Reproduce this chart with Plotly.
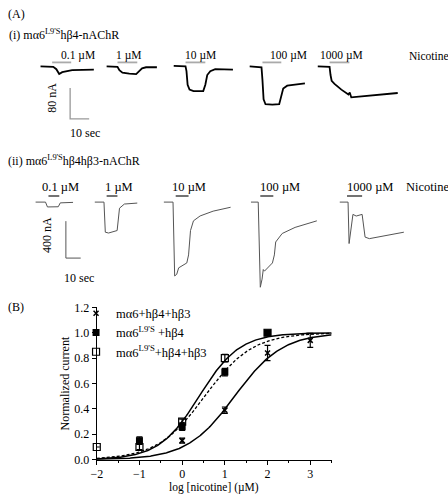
import numpy as np
import plotly.graph_objects as go

W, H = 448, 501
FONT = "Liberation Serif"

# ---------------- data ----------------
conc_labels = ["0.1 µM", "1 µM", "10 µM", "100 µM", "1000 µM"]

# Panel A(i): mα6L9'S hβ4 current traces, time (s) and current (nA) relative to baseline
r1_t = [
    [0, 6.7, 8.3, 9.8, 11.4, 14.0, 16.6, 28.0],
    [0, 5.7, 6.7, 8.3, 11.9, 15.5, 17.1, 18.6, 20.7, 26.4],
    [0, 6.2, 6.7, 7.3, 8.3, 10.4, 15.5, 16.6, 17.6, 19.2, 21.8, 31.1],
    [0, 6.2, 6.7, 7.3, 8.3, 11.9, 15.5, 16.6, 17.6, 19.7, 23.3, 29.0],
    [0, 6.2, 6.7, 7.3, 8.8, 12.4, 16.1, 16.8, 17.6, 22.8, 30.6, 42.0],
]
r1_i = [
    [0, -1.3, -7.6, -20.2, -15.2, -12.6, -10.1, -8.8],
    [0, -1.3, -10.1, -16.4, -18.9, -20.2, -12.6, -5.1, -2.5, -2.5],
    [0, -1.3, -13.9, -49.2, -61.9, -65.7, -65.7, -49.2, -24.0, -13.9, -8.8, -10.1],
    [0, -2.5, -35.4, -85.9, -98.5, -99.7, -98.5, -73.2, -58.0, -50.5, -48.0, -44.2],
    [0, -1.3, -22.7, -37.9, -45.5, -60.6, -73.2, -68.2, -80.8, -78.3, -73.2, -69.4],
]
r1_bar_on = [6.1, 5.7, 6.2, 6.7, 6.2]
r1_bar_off = [16.1, 16.1, 16.6, 16.6, 16.6]

# Panel A(ii): mα6L9'S hβ4 hβ3 current traces
r2_t = [
    [0, 6.7, 8.0, 12.0, 15.3, 16.7, 25.3],
    [0, 6.2, 7.1, 9.3, 15.1, 16.7, 20.0, 28.7],
    [0, 6.2, 7.3, 8.7, 10.0, 15.5, 16.7, 18.0, 20.0, 24.5, 33.3, 45.1],
    [0, 4.9, 6.3, 7.5, 8.3, 9.1, 14.5, 15.8, 16.7, 21.1, 29.8, 44.5],
    [0, 5.6, 6.3, 8.9, 11.1, 15.1, 17.1, 20.0, 43.3],
]
r2_i = [
    [0, 0, -52.6, -55.8, -50.5, -8.4, -3.2],
    [0, 0, -326, -335, -308, -66, -21, -10.5],
    [0, 0, -800, -782, -712, -659, -572, -308, -203, -150, -98, -56],
    [0, 0, -922, -834, -730, -748, -659, -572, -432, -340, -274, -203],
    [0, 0, -449, -133, -151, -133, -379, -396, -326],
]
r2_bar_on = [8.7, 8.0, 8.0, 6.3, 4.9]
r2_bar_off = [16.0, 15.3, 16.7, 15.1, 15.1]

scale1 = (10, 80)    # sec, nA
scale2 = (10, 400)   # sec, nA

# Panel B: concentration-response
wt_x = [0, 1, 2, 3]
wt_y = [0.15, 0.39, 0.84, 0.94]
wt_e = [0.02, 0.025, 0.06, 0.055]

b4_x = [-1, 0, 1, 2]
b4_y = [0.15, 0.26, 0.69, 1.00]
b4_e = [0.03, 0.03, 0.03, 0.01]

b4b3_x = [-2, -1, 0, 1, 2]
b4b3_y = [0.10, 0.10, 0.30, 0.80, 1.00]
b4b3_e = [0.0, 0.02, 0.02, 0.03, 0.01]

# Hill fit parameters (logEC50, slope)
wt_fit = (1.23, 0.78)
b4_fit = (0.53, 0.78)
b4b3_fit = (0.40, 0.92)

# ---------------- layout helpers ----------------
def px(x):
    return x / W

def py(y):
    return 1 - y / H

fig = go.Figure()

# Row geometry (pixels)
pps1, ppn1, top1, bot1 = 1.93, 0.396, 40, 140
pps2, ppn2, top2, bot2 = 1.5, 0.095, 168, 300
r1_x0 = [35, 102, 170, 247, 316]
r1_y0 = [61, 61, 60.5, 61, 61]
r2_x0 = [30, 90, 160, 248.3, 338.3]
r2_y0 = [200.7] * 5
bar1_y, bar2_y = 57, 194.5

def add_row(ts, cs, on, off, x0s, y0s, pps, ppn, top, bary, xa, ya, lcol, lw, bcol, bw):
    for t, c, a, b, x0, y0 in zip(ts, cs, on, off, x0s, y0s):
        toff = x0 / pps
        coff = -(y0 - top) / ppn
        fig.add_trace(go.Scatter(x=[v + toff for v in t], y=[v + coff for v in c],
                                 mode="lines", line=dict(color=lcol, width=lw),
                                 xaxis=xa, yaxis=ya, showlegend=False, hoverinfo="skip"))
        yb = -(bary - top) / ppn
        fig.add_trace(go.Scatter(x=[a + toff, b + toff], y=[yb, yb], mode="lines",
                                 line=dict(color=bcol, width=bw),
                                 xaxis=xa, yaxis=ya, showlegend=False, hoverinfo="skip"))

add_row(r1_t, r1_i, r1_bar_on, r1_bar_off, r1_x0, r1_y0, pps1, ppn1, top1, bar1_y,
        "x2", "y2", "black", 1.8, "#aaaaaa", 1.8)
add_row(r2_t, r2_i, r2_bar_on, r2_bar_off, r2_x0, r2_y0, pps2, ppn2, top2, bar2_y,
        "x3", "y3", "#555555", 1.0, "#444444", 1.4)

# scale bars
def add_scale(corner, sc, pps, ppn, top, xa, ya, col, lw):
    tc = corner[0] / pps
    vc = -(corner[1] - top) / ppn
    fig.add_trace(go.Scatter(x=[tc, tc, tc + sc[0]], y=[vc + sc[1], vc, vc], mode="lines",
                             line=dict(color=col, width=lw), xaxis=xa, yaxis=ya,
                             showlegend=False, hoverinfo="skip"))

add_scale((65, 115), scale1, pps1, ppn1, top1, "x2", "y2", "#999999", 1.3)
add_scale((60.7, 258.3), scale2, pps2, ppn2, top2, "x3", "y3", "#555555", 1.0)

# Panel B
def hill(x, p):
    return 1 / (1 + 10 ** ((p[0] - x) * p[1]))

xs = np.linspace(-2, 3.5, 300)
fig.add_trace(go.Scatter(x=xs, y=hill(xs, b4b3_fit), mode="lines",
                         line=dict(color="black", width=1.5), showlegend=False, hoverinfo="skip"))
fig.add_trace(go.Scatter(x=xs, y=hill(xs, b4_fit), mode="lines",
                         line=dict(color="black", width=1.3, dash="3px,2px"), showlegend=False,
                         hoverinfo="skip"))
fig.add_trace(go.Scatter(x=xs, y=hill(xs, wt_fit), mode="lines",
                         line=dict(color="black", width=1.5), showlegend=False, hoverinfo="skip"))

def err(e):
    return dict(type="data", array=e, visible=True, color="black", thickness=1.2, width=3)

fig.add_trace(go.Scatter(x=wt_x, y=wt_y, mode="markers", error_y=err(wt_e), cliponaxis=False,
                         marker=dict(symbol="x-thin", size=5, line=dict(color="black", width=1.5)),
                         name="mα6+hβ4+hβ3"))
fig.add_trace(go.Scatter(x=b4_x, y=b4_y, mode="markers", error_y=err(b4_e), cliponaxis=False,
                         marker=dict(symbol="square", size=7, color="black"),
                         name="mα6<sup>L9'S</sup> +hβ4"))
fig.add_trace(go.Scatter(x=b4b3_x, y=b4b3_y, mode="markers", error_y=err(b4b3_e), cliponaxis=False,
                         marker=dict(symbol="square-open", size=7, color="black",
                                     line=dict(width=1.2)),
                         name="mα6<sup>L9'S</sup>+hβ4+hβ3"))

ann = []
def txt(s, x, y, size=12, xanchor="left", angle=0):
    ann.append(dict(text=s, x=px(x), y=py(y), xref="paper", yref="paper", showarrow=False,
                    xanchor=xanchor, yanchor="middle", textangle=angle,
                    font=dict(family=FONT, size=size, color="black")))

txt("(A)", 0, 7)
txt("(i) mα6<sup>L9'S</sup>hβ4-nAChR", 1, 28)
txt("(ii) mα6<sup>L9'S</sup>hβ4hβ3-nAChR", 0, 158)
txt("(B)", 0, 309)
r1_lab_x = [54, 109, 179, 266, 316]
r2_lab_x = [34, 98, 166, 255, 344]
for s, a, b in zip(conc_labels, r1_lab_x, r2_lab_x):
    txt(s, a, 50, size=11.5)
    txt(s, b, 185, size=12.5)
txt("Nicotine", 406, 50, size=11.5)
txt("Nicotine", 403, 185, size=12.5)
txt(f"{scale1[1]} nA", 47, 93, angle=-90, xanchor="center")
txt(f"{scale1[0]} sec", 80, 130, xanchor="center")
txt(f"{scale2[1]} nA", 42, 234, angle=-90, xanchor="center")
txt(f"{scale2[0]} sec", 74, 279, xanchor="center")
txt("Normalized current", 60, 387, angle=-90, xanchor="center")
txt("log [nicotine] (µM)", 211, 494, size=11.5, xanchor="center")

tickfont = dict(family=FONT, size=12, color="black")
fig.update_layout(
    width=W, height=H, margin=dict(l=0, r=0, t=0, b=0),
    paper_bgcolor="white", plot_bgcolor="white",
    font=dict(family=FONT, size=12, color="black"),
    annotations=ann,
    showlegend=True,
    legend=dict(x=px(71), y=py(300), xanchor="left", yanchor="top",
                font=dict(family=FONT, size=12.5, color="black"),
                bgcolor="rgba(0,0,0,0)", itemwidth=30, tracegroupgap=0),
    xaxis=dict(domain=[px(92), px(330)], range=[-2, 3.5], showgrid=False, zeroline=False,
               showline=True, linecolor="black", linewidth=1, ticks="outside", ticklen=4,
               tickcolor="black", tickvals=[-2, -1, 0, 1, 2, 3], tickfont=tickfont,
               ticklabelstandoff=-1,
               minor=dict(ticks="outside", ticklen=2, tickcolor="black", dtick=0.5, tick0=-2),
               anchor="y", fixedrange=True),
    yaxis=dict(domain=[py(465.7), py(309)], range=[0, 1.2], showgrid=False, zeroline=False,
               showline=True, linecolor="black", linewidth=1, ticks="outside", ticklen=4,
               tickcolor="black", tickvals=[0, 0.2, 0.4, 0.6, 0.8, 1.0, 1.2], tickformat=".1f",
               tickfont=tickfont, anchor="x", fixedrange=True),
    xaxis2=dict(domain=[0, 1], range=[0, W / pps1], visible=False, anchor="y2", fixedrange=True),
    yaxis2=dict(domain=[py(bot1), py(top1)], range=[-(bot1 - top1) / ppn1, 0], visible=False,
                anchor="x2", fixedrange=True),
    xaxis3=dict(domain=[0, 1], range=[0, W / pps2], visible=False, anchor="y3", fixedrange=True),
    yaxis3=dict(domain=[py(bot2), py(top2)], range=[-(bot2 - top2) / ppn2, 0], visible=False,
                anchor="x3", fixedrange=True),
)

fig.write_html("out.html", config={"displayModeBar": False},
               post_script="document.body.style.margin='0';")
